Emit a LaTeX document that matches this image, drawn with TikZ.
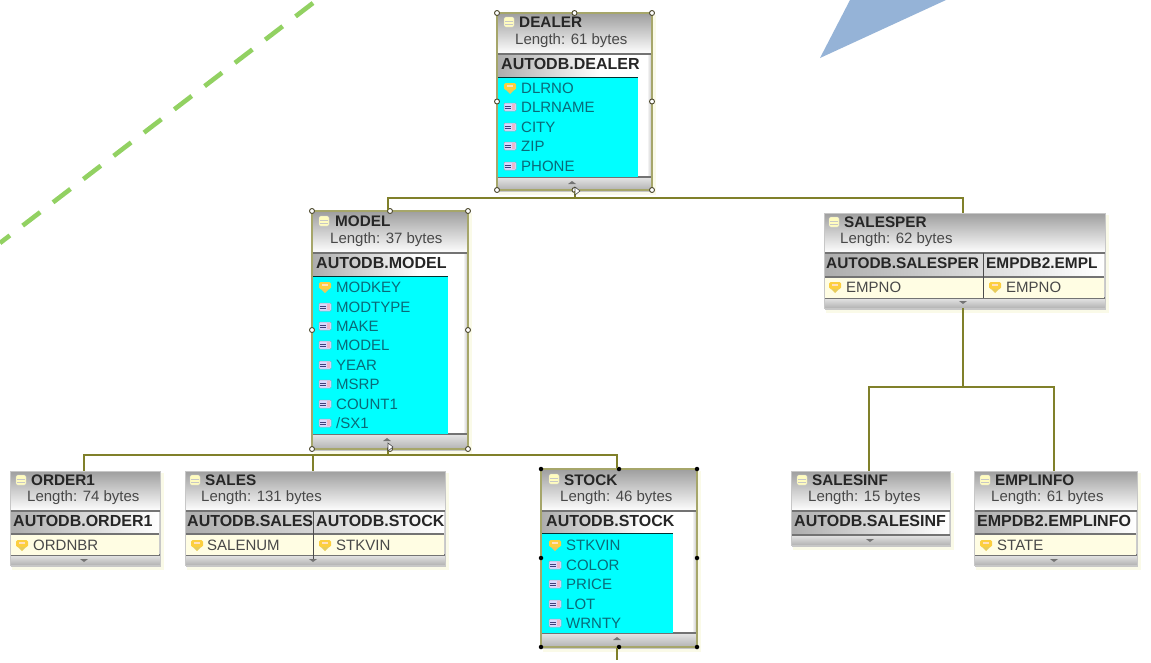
\documentclass[tikz,border=0pt]{standalone}
\usepackage{fontspec}
\setmainfont{Liberation Sans}
\definecolor{conn}{HTML}{80802A}
\definecolor{cyanfill}{HTML}{00FFFF}
\definecolor{cream}{HTML}{FFFDE3}
\definecolor{halo}{HTML}{FAFAE8}
\definecolor{greendash}{HTML}{92D162}
\definecolor{bluetri}{HTML}{95B3D7}
\definecolor{tealtxt}{HTML}{0A6A78}
\definecolor{greytxt}{HTML}{484848}
\tikzset{x=1pt,y=-1pt,
  conline/.style={draw=conn,line width=1.5pt},
  boxnode/.style={rectangle,inner sep=0pt,anchor=north west},
  titletext/.style={anchor=west,inner sep=0pt,font=\fontsize{15.3}{16}\selectfont\bfseries,text=black!85},
  lengthtext/.style={anchor=west,inner sep=0pt,font=\fontsize{15}{16}\selectfont,text=greytxt},
  tabletext/.style={anchor=west,inner sep=0pt,font=\fontsize{16}{17}\selectfont\bfseries,text=black!85},
  coltext/.style={anchor=west,inner sep=0pt,font=\fontsize{15}{16}\selectfont,text=tealtxt},
  keytext/.style={anchor=west,inner sep=0pt,font=\fontsize{15}{16}\selectfont,text=greytxt},
  handle/.style={circle,draw=black!60!olive,fill=white,line width=.9pt,inner sep=0pt,minimum size=5pt},
  hblack/.style={circle,fill=black,inner sep=0pt,minimum size=4.5pt},
  bar/.style={draw=black!55,line width=1.1pt}}
% #1 name, #2 x1, #3 y1, #4 x2, #5 y2, #6 header bottom y, #7 footer top y
\newcommand\tablebox[7]{%
  \fill[halo] (#2+2,#3+2) rectangle (#4+4,#5+5);
  \fill[black!22] (#2+1,#5-1) rectangle (#4+1,#5+2);
  \node[boxnode,fill=white,minimum width=#4pt-#2pt,minimum height=#5pt-#3pt] (#1) at (#2,#3) {};
  \shade[top color=black!38,bottom color=white] (#2,#3) rectangle (#4,#6);
  \shade[top color=black!10,bottom color=black!30] (#2,#7) rectangle (#4,#5);
  \shade[left color=white,right color=black!25] (#4-5,#6) rectangle (#4,#7);
  \draw[bar] (#2,#6) -- (#4,#6);
  \draw[bar] (#2,#7) -- (#4,#7);
  \draw[black!22,line width=.5pt] (#2,#3) rectangle (#4,#5);
}
% footer arrows
\newcommand\footdown[2]{\fill[black!55] (#1-4,#2) -- (#1+4,#2) -- (#1,#2+3) -- cycle;}
\newcommand\footup[2]{\fill[black!55] (#1-4,#2+3) -- (#1+4,#2+3) -- (#1,#2) -- cycle;}
\newcommand\footmark[2]{\fill[white,draw=black!70,line width=.6pt] (#1,#2-4) -- (#1+5,#2) -- (#1,#2+4) -- cycle;}
% table-name row shade: x1 x2 y1 y2
\newcommand\namerow[4]{\shade[left color=black!32,right color=white] (#1,#3) rectangle (#2,#4);}
\newcommand\dbicon[2]{\fill[yellow!25!white,draw=black!18,line width=.3pt,rounded corners=1.5pt] (#1,#2-5) rectangle (#1+10,#2+5);
  \draw[black!22,line width=.5pt] (#1+1,#2-1) -- (#1+9,#2-1) (#1+1,#2+2) -- (#1+9,#2+2);}
\newcommand\keyicon[2]{\fill[yellow!55!orange!75!white,rounded corners=1.5pt] (#1,#2-5) rectangle (#1+12,#2+2);
  \fill[yellow!50!brown!80!white] (#1+2,#2+2) -- (#1+10,#2+2) -- (#1+6,#2+6) -- cycle;
  \fill[white!75!orange] (#1+3,#2-3) rectangle (#1+9,#2-1);}
\newcommand\colicon[2]{\fill[white!85!blue,draw=blue!25!black!35,line width=.5pt,rounded corners=1pt] (#1,#2-4) rectangle (#1+12,#2+4);
  \draw[blue!30!black!75,line width=.8pt] (#1+1,#2-1) -- (#1+7,#2-1) (#1+1,#2+1.5) -- (#1+7,#2+1.5);
  \fill[purple!28!white] (#1+7.5,#2-3) rectangle (#1+11,#2+3);}
% handles around a selected box
\newcommand\handles[6][handle]{%
  \draw[conn!70!white,line width=1.3pt] (#3,#4) rectangle (#5,#6);
  \node[#1] (#2h1) at (#3,#4) {};\node[#1] (#2h2) at ({(#3+#5)/2},#4) {};\node[#1] (#2h3) at (#5,#4) {};
  \node[#1] (#2h4) at (#3,{(#4+#6)/2}) {};\node[#1] (#2h5) at (#5,{(#4+#6)/2}) {};
  \node[#1] (#2h6) at (#3,#6) {};\node[#1] (#2h7) at ({(#3+#5)/2},#6) {};\node[#1] (#2h8) at (#5,#6) {};}
\begin{document}
\begin{tikzpicture}
\useasboundingbox (0,0) rectangle (1151,662);
\fill[white] (0,0) rectangle (1151,662);
% decorations
\coordinate (gstart) at (313,3);
\coordinate (gend) at (0,243);
\draw[greendash,line width=4.6pt,dash pattern=on 22pt off 16.2pt] (gstart) -- (gend);
\fill[bluetri] (820,58) -- (850,0) -- (946,0) -- cycle;
% DEALER
\tablebox{dealer}{497}{13}{652}{190}{54}{177}
\namerow{498}{600}{55}{77}
\fill[cyanfill] (498,77) rectangle (638,177);
\draw[black!60!teal,line width=1pt] (498,77) -- (638,77);
\dbicon{504}{22}
\node[titletext] (dealert) at (519,22) {DEALER};
\node[lengthtext] (dealerl) at (515,41) {Length: 61 bytes};
\node[tabletext] (dealern) at (501,64) {AUTODB.DEALER};
\keyicon{504}{88}
\node[coltext] (dealer1) at (521,88) {DLRNO};
\colicon{504}{107}\node[coltext] (dealer2) at (521,107) {DLRNAME};
\colicon{504}{127}\node[coltext] (dealer3) at (521,127) {CITY};
\colicon{504}{146}\node[coltext] (dealer4) at (521,146) {ZIP};
\colicon{504}{166}\node[coltext] (dealer5) at (521,166) {PHONE};
\footup{572}{181}
\handles{dealer}{497}{13}{652}{190}
% MODEL
\tablebox{model}{312}{211}{468}{449}{253}{434}
\namerow{313}{420}{254}{275}
\fill[cyanfill] (313,276) rectangle (448,434);
\draw[black!60!teal,line width=1pt] (313,276) -- (448,276);
\dbicon{319}{221}
\node[titletext] (modelt) at (335,221) {MODEL};
\node[lengthtext] (modell) at (330,240) {Length: 37 bytes};
\node[tabletext] (modeln) at (316,263) {AUTODB.MODEL};
\keyicon{319}{287}\node[coltext] (model1) at (336,287) {MODKEY};
\colicon{319}{307}\node[coltext] (model2) at (336,307) {MODTYPE};
\colicon{319}{326}\node[coltext] (model3) at (336,326) {MAKE};
\colicon{319}{345}\node[coltext] (model4) at (336,345) {MODEL};
\colicon{319}{365}\node[coltext] (model5) at (336,365) {YEAR};
\colicon{319}{384}\node[coltext] (model6) at (336,384) {MSRP};
\colicon{319}{404}\node[coltext] (model7) at (336,404) {COUNT1};
\colicon{319}{423}\node[coltext] (model8) at (336,423) {/SX1};
\footup{387}{438}
\handles{model}{312}{211}{468}{449}
% SALESPER
\tablebox{salesper}{824}{213}{1105}{308}{253}{298}
\namerow{825}{1104}{254}{276}
\fill[cream] (825,277) rectangle (1104,298);
\draw[bar] (825,277) -- (1104,277);
\draw[black!70,line width=.8pt] (983,253) -- (983,298);
\dbicon{829}{222}
\node[titletext] (salespert) at (844,222) {SALESPER};
\node[lengthtext] (salesperl) at (840,240) {Length: 62 bytes};
\node[tabletext,font=\fontsize{15.4}{16}\selectfont\bfseries] (salespern) at (826,263) {AUTODB.SALESPER};
\node[tabletext,font=\fontsize{15.4}{16}\selectfont\bfseries] (salesperm) at (986,263) {EMPDB2.EMPL};
\keyicon{829}{287}\node[keytext] (salesper1) at (846,287) {EMPNO};
\keyicon{989}{287}\node[keytext] (salesper2) at (1006,287) {EMPNO};
\footdown{963}{301}
% ORDER1
\tablebox{order}{10}{471}{160}{565}{511}{555}
\namerow{11}{159}{512}{533}
\fill[cream] (11,534) rectangle (159,555);
\draw[bar] (11,534) -- (159,534);
\dbicon{16}{480}
\node[titletext] (ordert) at (31,480) {ORDER1};
\node[lengthtext] (orderl) at (27,498) {Length: 74 bytes};
\node[tabletext] (ordern) at (13,521) {AUTODB.ORDER1};
\keyicon{16}{545}\node[keytext] (order1) at (33,545) {ORDNBR};
\footdown{84}{559}
% SALES
\tablebox{sales}{185}{471}{445}{565}{511}{555}
\namerow{186}{444}{512}{533}
\fill[cream] (186,534) rectangle (444,555);
\draw[bar] (186,534) -- (444,534);
\draw[black!70,line width=.8pt] (313,511) -- (313,560);
\dbicon{190}{480}
\node[titletext] (salest) at (205,480) {SALES};
\node[lengthtext] (salesl) at (201,498) {Length: 131 bytes};
\node[tabletext] (salesn) at (187,521) {AUTODB.SALES};
\node[tabletext] (salesm) at (316,521) {AUTODB.STOCK};
\keyicon{191}{545}\node[keytext] (sales1) at (207,545) {SALENUM};
\keyicon{319}{545}\node[keytext] (sales2) at (336,545) {STKVIN};
\footdown{313}{559}
% STOCK
\tablebox{stock}{541}{469}{697}{647}{511}{633}
\namerow{542}{645}{512}{533}
\fill[cyanfill] (542,533) rectangle (673,633);
\draw[black!60!teal,line width=1pt] (542,533) -- (673,533);
\dbicon{549}{479}
\node[titletext] (stockt) at (564,480) {STOCK};
\node[lengthtext] (stockl) at (560,498) {Length: 46 bytes};
\node[tabletext] (stockn) at (546,521) {AUTODB.STOCK};
\keyicon{549}{545}\node[coltext] (stock1) at (566,545) {STKVIN};
\colicon{549}{565}\node[coltext] (stock2) at (566,565) {COLOR};
\colicon{549}{584}\node[coltext] (stock3) at (566,584) {PRICE};
\colicon{549}{604}\node[coltext] (stock4) at (566,604) {LOT};
\colicon{549}{623}\node[coltext] (stock5) at (566,623) {WRNTY};
\footup{617}{637}
\handles[hblack]{stock}{541}{469}{697}{647}
% SALESINF
\tablebox{salesinf}{791}{471}{950}{545}{511}{535}
\namerow{792}{949}{512}{533}
\dbicon{797}{480}
\node[titletext] (salesinft) at (812,480) {SALESINF};
\node[lengthtext] (salesinfl) at (808,498) {Length: 15 bytes};
\node[tabletext] (salesinfn) at (794,521) {AUTODB.SALESINF};
\footdown{870}{539}
% EMPLINFO
\tablebox{empl}{974}{471}{1137}{565}{511}{555}
\namerow{975}{1136}{512}{533}
\fill[cream] (975,534) rectangle (1136,555);
\draw[bar] (975,534) -- (1136,534);
\dbicon{980}{480}
\node[titletext] (emplt) at (995,480) {EMPLINFO};
\node[lengthtext] (empll) at (991,498) {Length: 61 bytes};
\node[tabletext] (empln) at (977,521) {EMPDB2.EMPLINFO};
\keyicon{980}{545}\node[keytext] (empl1) at (997,545) {STATE};
\footdown{1054}{559}
% connectors
\coordinate (dealerport) at (575,191);
\coordinate (dealerbus) at (575,198);
\coordinate (modelin) at (388,210);
\coordinate (salesperin) at (963,213);
\coordinate (modelport) at (388,450);
\coordinate (modelbus) at (388,455);
\coordinate (orderin) at (84,471);
\coordinate (salesin) at (313,471);
\coordinate (stockin) at (617,468);
\coordinate (stockport) at (617,648);
\coordinate (stockend) at (617,660);
\coordinate (salesperport) at (963,308);
\coordinate (salesperbus) at (963,387);
\coordinate (salesinfin) at (869,471);
\coordinate (emplin) at (1054,471);
\draw[conline] (dealerport) -- (dealerbus) -| (modelin);
\draw[conline] (dealerbus) -| (salesperin);
\draw[conline] (modelport) -- (modelbus) -| (orderin);
\draw[conline] (modelbus) -| (salesin);
\draw[conline] (modelbus) -| (stockin);
\draw[conline] (stockport) -- (stockend);
\draw[conline] (salesperport) -- (salesperbus) -| (salesinfin);
\draw[conline] (salesperbus) -| (emplin);
\footmark{575}{191}
\footmark{388}{447}
\end{tikzpicture}
\end{document}
